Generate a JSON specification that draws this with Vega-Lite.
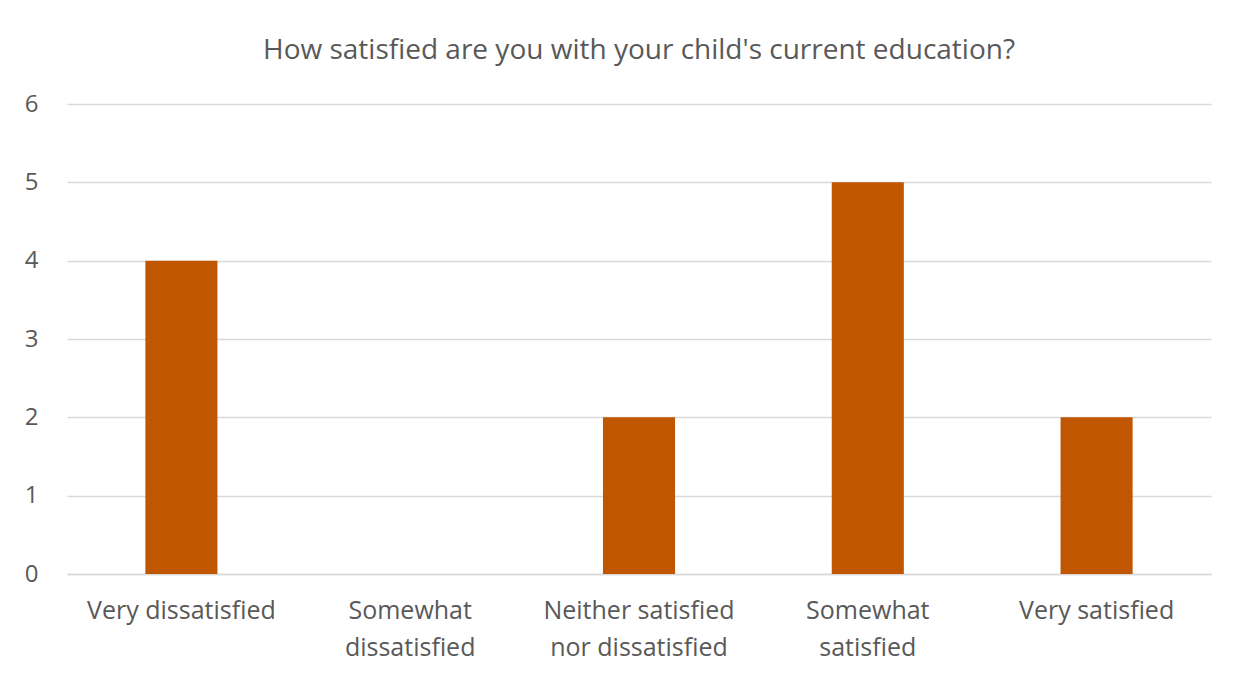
{
  "$schema": "https://vega.github.io/schema/vega-lite/v6.json",
  "autosize": {"type": "none"},
  "width": 1144,
  "height": 470,
  "padding": {"left": 67, "top": 104, "right": 25, "bottom": 103},
  "background": "white",
  "title": {
    "text": "How satisfied are you with your child's current education?",
    "font": "Open Sans",
    "fontSize": 28,
    "fontWeight": "normal",
    "color": "#595959",
    "anchor": "middle",
    "offset": 27
  },
  "data": {
    "values": [
      {"response": "Very dissatisfied", "count": 4},
      {"response": "Somewhat dissatisfied", "count": 0},
      {"response": "Neither satisfied nor dissatisfied", "count": 2},
      {"response": "Somewhat satisfied", "count": 5},
      {"response": "Very satisfied", "count": 2}
    ]
  },
  "mark": {"type": "bar", "color": "#C05600"},
  "encoding": {
    "x": {
      "field": "response",
      "type": "nominal",
      "sort": null,
      "scale": {"paddingInner": 0.685, "paddingOuter": 0.3425},
      "axis": {
        "title": null,
        "labelAngle": 0,
        "labelFont": "Open Sans",
        "labelFontSize": 25,
        "labelColor": "#595959",
        "labelPadding": 24,
        "labelLineHeight": 37,
        "labelLimit": 300,
        "ticks": false,
        "domainColor": "#D9D9D9",
        "domainWidth": 1.5,
        "labelExpr": "datum.label == 'Somewhat dissatisfied' ? ['Somewhat', 'dissatisfied'] : datum.label == 'Neither satisfied nor dissatisfied' ? ['Neither satisfied', 'nor dissatisfied'] : datum.label == 'Somewhat satisfied' ? ['Somewhat', 'satisfied'] : datum.label"
      }
    },
    "y": {
      "field": "count",
      "type": "quantitative",
      "scale": {"domain": [0, 6]},
      "axis": {
        "title": null,
        "values": [0, 1, 2, 3, 4, 5, 6],
        "labelOverlap": false,
        "labelFont": "Open Sans",
        "labelFontSize": 24,
        "labelColor": "#595959",
        "labelPadding": 29,
        "ticks": false,
        "domain": false,
        "gridColor": "#D9D9D9",
        "gridWidth": 1.5
      }
    }
  },
  "config": {"view": {"stroke": null}}
}
